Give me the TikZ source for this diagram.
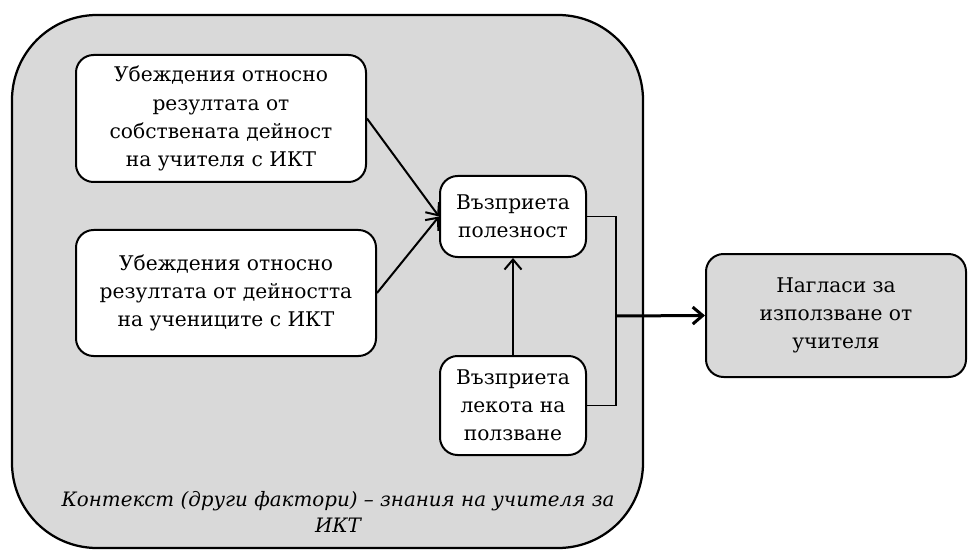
\documentclass[tikz,border=0pt]{standalone}
\usepackage{fontspec}
\setmainfont{DejaVu Serif}
\usepackage{xcolor}
\usetikzlibrary{arrows,arrows.meta,positioning}
\definecolor{ctxgray}{RGB}{217,217,217}

\tikzset{
  factor/.style={draw,rounded corners=10pt,fill=white,align=center,
    inner sep=0pt,font=\fontsize{11.5}{16}\selectfont,line width=0.4mm},
  outcome/.style={factor,fill=ctxgray}
}

\begin{document}
\begin{tikzpicture}[->,>={Straight Barb[length=2mm,width=3.4mm]},line width=0.4mm]
  \useasboundingbox (0,0) rectangle (19.38,11.08);
  \draw[-,fill=ctxgray,rounded corners=1.7cm,line width=0.45mm] (0.24,0.12) rectangle (12.86,10.78);

  \node[factor,minimum width=5.8cm,minimum height=2.54cm]  (own)   at (4.42,8.71)
       {Убеждения относно\\резултата от\\собствената дейност\\на учителя с ИКТ};
  \node[factor,minimum width=6cm,minimum height=2.52cm]    (pupil) at (4.52,5.22)
       {Убеждения относно\\резултата от дейността\\на учениците с ИКТ};
  \node[factor,minimum width=2.92cm,minimum height=1.62cm] (use)   at (10.26,6.75)
       {Възприета\\полезност};
  \node[factor,minimum width=2.92cm,minimum height=1.98cm] (ease)  at (10.26,2.97)
       {Възприета\\лекота на\\ползване};
  \node[outcome,minimum width=5.2cm,minimum height=2.46cm] (att)   at (16.72,4.77)
       {Нагласи за\\използване от\\учителя};
  \node[font=\fontsize{11.3}{15}\selectfont\itshape,align=center] (ctx) at (6.76,0.84)
       {Контекст (други фактори) -- знания на учителя за\\ИКТ};

  \coordinate (j) at (12.32,4.76);

  \draw (own.east)   -- (use.west);
  \draw (pupil.east) -- (use.west);
  \draw (ease.north) -- (use.south);
  \draw[-,line width=0.3mm] (use.east) -| (j) |- (ease.east);
  \draw[line width=0.6mm] (j) -- (att.west);
\end{tikzpicture}
\end{document}
